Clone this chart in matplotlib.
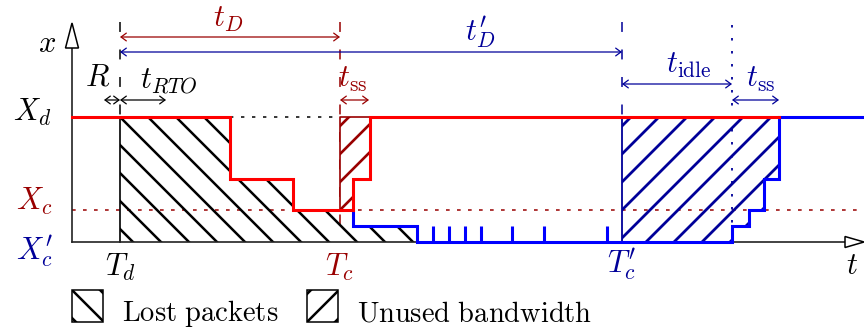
import numpy as np
import matplotlib
matplotlib.use("Agg")
import matplotlib.pyplot as plt
from matplotlib.patches import Polygon, Rectangle

plt.rcParams['mathtext.fontset'] = 'cm'
plt.rcParams['font.family'] = ['DejaVu Serif']

# ---------------- schematic data (time units, rate units) ----------------
T_d, T_c, T_c2 = 48, 268, 550          # key instants
T_idle_end = 660                        # end of idle period
T_end = 792                             # end of time axis
X_d, X_mid, X_c, X_c2 = 125, 63, 32, 16  # rate levels

red_edges = [0, 158, 221, 281, 298, 707]
red_levels = [125, 63, 32, 63, 125]

blue_start = 32
blue_edges = [281, 345, 660, 677, 692, 707, 792]
blue_levels = [16, 0, 16, 32, 63, 125]

spike_times = [361, 377, 393, 409, 440, 472, 535]
spike_height = 16

lost_edges = [48, 158, 221, 281, 345]
lost_levels = [125, 63, 32, 16]

unused_red_edges = [268, 281, 298]
unused_red_levels = [32, 63]

unused_blue_edges = [550, 660, 677, 692, 707]
unused_blue_levels = [0, 16, 32, 63]

# ---------------- styling ----------------
RED = '#ff0000'
BLUE = '#0000ff'
DRED = '#990000'
DBLUE = '#000099'
FS = 22
FS_LEG = 20.5
HATCH_SP = 28

fig = plt.figure(figsize=(8.64, 3.28), dpi=100)
ax = fig.add_axes([0, 0, 1, 1])
ax.set_xlim(-72, 792)
ax.set_ylim(-86, 242)
ax.axis('off')


def step_path(edges, levels, start=None):
    xs, ys = [], []
    if start is not None:
        xs.append(edges[0]); ys.append(start)
    for i, lv in enumerate(levels):
        xs += [edges[i], edges[i + 1]]
        ys += [lv, lv]
    return np.array(xs, float), np.array(ys, float)


def region_below(edges, levels, base=0):
    xs, ys = step_path(edges, levels)
    xs = np.concatenate([[edges[0]], xs, [edges[-1]]])
    ys = np.concatenate([[base], ys, [base]])
    return np.column_stack([xs, ys])


def region_above(edges, levels, top):
    xs, ys = step_path(edges, levels)
    xs = np.concatenate([[edges[0]], xs, [edges[-1]]])
    ys = np.concatenate([[top], ys, [top]])
    return np.column_stack([xs, ys])


def hatch(verts, slope, anchor, color, lw, z=2):
    poly = Polygon(verts, closed=True, fc='none', ec='none')
    ax.add_patch(poly)
    xs, ys = verts[:, 0], verts[:, 1]
    cv = ys - slope * xs
    c0 = anchor[1] - slope * anchor[0]
    k0 = int(np.floor((cv.min() - c0) / HATCH_SP)) - 1
    k1 = int(np.ceil((cv.max() - c0) / HATCH_SP)) + 1
    x0, x1 = xs.min() - 5, xs.max() + 5
    for k in range(k0, k1 + 1):
        c = c0 + k * HATCH_SP
        ln, = ax.plot([x0, x1], [slope * x0 + c, slope * x1 + c], color=color,
                      lw=lw, solid_capstyle='butt', zorder=z)
        ln.set_clip_path(poly)


# ---- reference dotted lines ----
ax.plot([0, T_end], [X_c, X_c], color=DRED, lw=1.1, dashes=(2.4, 4.8), zorder=1)
ax.plot([red_edges[1], T_c], [X_d, X_d], color='black', lw=1.1, dashes=(2.2, 5.0), zorder=1)

# ---- vertical guide lines ----
top_guide = 220
dash = (6.5, 11.5)
ax.plot([T_d, T_d], [top_guide, X_d], color='black', lw=1.1, dashes=dash, zorder=1)
ax.plot([T_c, T_c], [top_guide, 0], color=DRED, lw=1.1, dashes=dash, zorder=1)
ax.plot([T_c2, T_c2], [top_guide, X_d], color=DBLUE, lw=1.1, dashes=dash, zorder=1)
ax.plot([T_idle_end, T_idle_end], [217, 0], color=DBLUE, lw=1.3, dashes=(1.4, 5.8), zorder=1)

# ---- hatched regions ----
lost = region_below(lost_edges, lost_levels)
hatch(lost, -1, (T_d, X_d), 'black', 1.8)
ax.plot([T_d, T_d], [0, X_d], color='black', lw=1.2, zorder=3)

ured = region_above(unused_red_edges, unused_red_levels, X_d)
ax.add_patch(Polygon(ured, closed=True, fc='white', ec='none', zorder=2.5))
hatch(ured, 1, (T_c, X_c), DRED, 1.9, z=2.6)
ax.plot([T_c, T_c, unused_red_edges[-1]], [X_c, X_d, X_d], color=DRED, lw=1.2, zorder=2.7)

ublue = region_above(unused_blue_edges, unused_blue_levels, X_d)
hatch(ublue, 1, (T_c2 - 4, 0), DBLUE, 2.0)
ax.plot([T_c2, T_c2], [0, X_d], color=DBLUE, lw=1.3, zorder=3)

# ---- axes ----
ax.plot([0, T_end - 19], [0, 0], color='#222222', lw=1.2, zorder=3)
ax.plot([0, 0], [0, 194], color='#222222', lw=1.2, zorder=3)
ax.add_patch(Polygon([[T_end - 19, -5.5], [T_end, 0], [T_end - 19, 5.5]], closed=True,
                     fc='white', ec='black', lw=1.1, zorder=3))
ax.add_patch(Polygon([[-6.5, 194], [0, 219], [6.5, 194]], closed=True,
                     fc='white', ec='black', lw=1.1, zorder=3))

# ---- rate curves ----
bx, by = step_path(blue_edges, blue_levels, blue_start)
ax.plot(bx, by, color=BLUE, lw=2.2, zorder=4, solid_joinstyle='miter')
ax.vlines(spike_times, 0, spike_height, color=BLUE, lw=2.2, zorder=4)
rx, ry = step_path(red_edges, red_levels)
ax.plot(rx, ry, color=RED, lw=2.2, zorder=5, solid_joinstyle='miter')


# ---- dimension arrows ----
def dim(x0, x1, y, color):
    ax.annotate('', xy=(x1, y), xytext=(x0, y),
                arrowprops=dict(arrowstyle='<->,head_length=0.38,head_width=0.28',
                                color=color, lw=0.9, shrinkA=0, shrinkB=0), zorder=6)


dim(T_d, T_c, 205, DRED)
dim(T_d, T_c2, 190, DBLUE)
dim(32, T_d, 142, 'black')
dim(T_d, 94, 142, 'black')
dim(T_c, 297, 142, DRED)
dim(T_c2, T_idle_end, 158, DBLUE)
dim(T_idle_end, 707, 142, DBLUE)

# ---- labels ----
def lab(x, y, s, color='black', fs=FS, ha='center', va='center'):
    ax.text(x, y, s, color=color, fontsize=fs, ha=ha, va=va, zorder=7)


lab(156, 224, r'$t_D$', DRED)
lab(408, 209, r'$t^{\prime}_D$', DBLUE)
lab(26, 165, r'$R$')
lab(97, 162, r'$t_{RTO}$')
lab(281, 164, r'$t_{\mathrm{ss}}$', DRED)
lab(617, 178, r'$t_{\mathrm{idle}}$', DBLUE)
lab(689, 164, r'$t_{\mathrm{ss}}$', DBLUE)

lab(-25, 198, r'$x$')
lab(-40, 130, r'$X_d$')
lab(-38, 41, r'$X_c$', DRED)
lab(-38, -10, r'$X^{\prime}_c$', DBLUE)
lab(T_d, -25, r'$T_d$')
lab(T_c, -25, r'$T_c$', DRED)
lab(T_c2, -23, r'$T^{\prime}_c$', DBLUE)
lab(780, -24, r'$t$')

# ---- legend ----
leg_y0, leg_y1 = -80, -48
for (bx0, slope, anchor, text) in [(0, -1, (0, -48), r'$\mathrm{Lost\ packets}$'),
                                   (235, 1, (235, -80), r'$\mathrm{Unused\ bandwidth}$')]:
    box = np.array([[bx0, leg_y0], [bx0 + 31, leg_y0], [bx0 + 31, leg_y1], [bx0, leg_y1]], float)
    hatch(box, slope, anchor, 'black', 1.8)
    ax.add_patch(Rectangle((bx0, leg_y0), 31, 32, fc='none', ec='black', lw=1.1, zorder=3))
    lab(bx0 + 50, -79, text, fs=FS_LEG, ha='left', va='baseline')

fig.savefig('out.png', dpi=100)
